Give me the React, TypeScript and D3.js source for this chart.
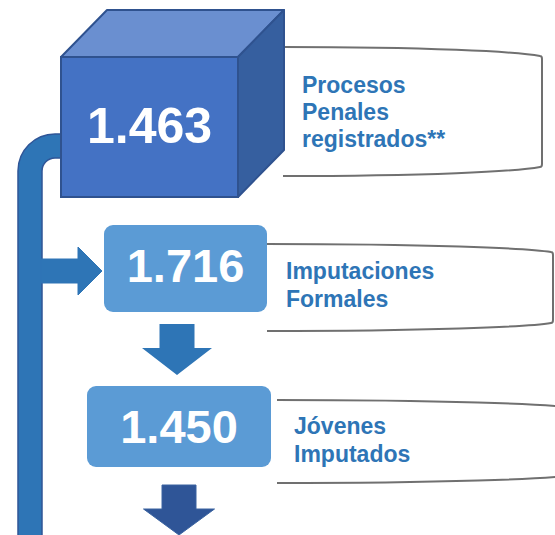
import React from "react";
import * as d3 from "d3";

const values = [1463, 1716, 1450];
const labels: string[][] = [
  ["Procesos", "Penales", "registrados**"],
  ["Imputaciones", "Formales"],
  ["Jóvenes", "Imputados"],
];

const W = 555;
const H = 535;

const locale = d3.formatLocale({ decimal: ",", thousands: ".", grouping: [3], currency: ["$", ""] });
const fmt = locale.format(",d");

const FONT = "'Liberation Sans', Arial, Helvetica, sans-serif";
const TEXT_BLUE = "#2E75B6";

function bracketPath(x0: number, x1: number, y0: number, y1: number, drop: number) {
  const p = d3.path();
  p.moveTo(x0, y0);
  p.bezierCurveTo(x0 + (x1 - x0) * 0.55, y0, x1 - 25, y0 + drop * 0.5, x1 - 2, y0 + drop);
  p.quadraticCurveTo(x1, y0 + drop, x1, y0 + drop + 3);
  p.lineTo(x1, y1 - drop - 3);
  p.quadraticCurveTo(x1, y1 - drop, x1 - 2, y1 - drop);
  p.bezierCurveTo(x1 - 25, y1 - drop * 0.5, x0 + (x1 - x0) * 0.55, y1, x0, y1);
  return p.toString();
}

function pipePath() {
  const cx = 55, cy = 171, R = 37, r = 13;
  const p = d3.path();
  p.moveTo(cx - R, H + 5);
  p.lineTo(cx - R, cy);
  p.arc(cx, cy, R, Math.PI, Math.PI * 1.5);
  p.lineTo(80, cy - R);
  p.lineTo(80, cy - r);
  p.lineTo(cx, cy - r);
  p.arc(cx, cy, r, Math.PI * 1.5, Math.PI, true);
  p.lineTo(cx - r, H + 5);
  p.closePath();
  return p.toString();
}

function rightArrow(x0: number, xs: number, xt: number, yc: number, shaftH: number, headH: number) {
  const pts: [number, number][] = [
    [x0, yc - shaftH / 2],
    [xs, yc - shaftH / 2],
    [xs, yc - headH / 2],
    [xt, yc],
    [xs, yc + headH / 2],
    [xs, yc + shaftH / 2],
    [x0, yc + shaftH / 2],
  ];
  return d3.line()(pts) + "Z";
}

function downArrow(xc: number, y0: number, ys: number, yt: number, shaftW: number, headW: number) {
  const pts: [number, number][] = [
    [xc - shaftW / 2, y0],
    [xc + shaftW / 2, y0],
    [xc + shaftW / 2, ys],
    [xc + headW / 2, ys],
    [xc, yt],
    [xc - headW / 2, ys],
    [xc - shaftW / 2, ys],
  ];
  return d3.line()(pts) + "Z";
}

export default function App() {
  // cube geometry
  const fx0 = 61, fx1 = 238, fy0 = 57, fy1 = 197, dx = 46, dy = -47;
  const top = d3.line()([[fx0, fy0], [fx0 + dx, fy0 + dy], [fx1 + dx, fy0 + dy], [fx1, fy0]]) + "Z";
  const side = d3.line()([[fx1, fy0], [fx1 + dx, fy0 + dy], [fx1 + dx, fy1 + dy], [fx1, fy1]]) + "Z";

  const boxes = [
    { x: 104, y: 225, w: 163, h: 87, cx: 185.5, base: 282, fs: 47 },
    { x: 87, y: 386, w: 184, h: 81, cx: 179, base: 443, fs: 47 },
  ];

  const brackets = [
    { x0: 283, x1: 542, y0: 47, y1: 176, drop: 9 },
    { x0: 267, x1: 553, y0: 244, y1: 331, drop: 8 },
    { x0: 277, x1: 575, y0: 400, y1: 483, drop: 8 },
  ];

  const labelPos = [
    { x: 302, y: 93, lh: 27 },
    { x: 286, y: 279, lh: 28 },
    { x: 294, y: 434, lh: 28 },
  ];

  return (
    <svg width={W} height={H} style={{ position: "absolute", left: 0, top: 0, display: "block", background: "#fff" }}>
      {/* brackets */}
      {brackets.map((b, i) => (
        <path key={"br" + i} d={bracketPath(b.x0, b.x1, b.y0, b.y1, b.drop)} fill="none" stroke="#707070" strokeWidth={2} />
      ))}

      {/* pipe */}
      <path d={pipePath()} fill="#2E75B6" stroke="#2F5597" strokeWidth={1.5} />

      {/* right arrow from pipe */}
      <path d={rightArrow(41, 78, 102, 271, 24, 48)} fill="#2E75B6" stroke="#2E75B6" strokeWidth={1} />

      {/* cube */}
      <path d={top} fill="#6A8FD0" stroke="#2F528F" strokeWidth={2} strokeLinejoin="round" />
      <path d={side} fill="#365F9F" stroke="#2F528F" strokeWidth={2} strokeLinejoin="round" />
      <rect x={fx0} y={fy0} width={fx1 - fx0} height={fy1 - fy0} fill="#4472C4" stroke="#2F528F" strokeWidth={2} />
      <text x={(fx0 + fx1) / 2} y={143} textAnchor="middle" fill="#fff" fontFamily={FONT} fontWeight="bold" fontSize={50}>
        {fmt(values[0])}
      </text>

      {/* rounded boxes */}
      {boxes.map((b, i) => (
        <g key={"bx" + i}>
          <rect x={b.x} y={b.y} width={b.w} height={b.h} rx={9} fill="#5B9BD5" />
          <text x={b.cx} y={b.base} textAnchor="middle" fill="#fff" fontFamily={FONT} fontWeight="bold" fontSize={b.fs}>
            {fmt(values[i + 1])}
          </text>
        </g>
      ))}

      {/* down arrows */}
      <path d={downArrow(177, 324, 348, 375, 35, 70)} fill="#2E75B6" />
      <path d={downArrow(179, 485, 509, 535, 34, 71)} fill="#2F5597" stroke="#3A63A0" strokeWidth={1} />

      {/* labels */}
      {labels.map((lines, i) => (
        <text key={"lb" + i} fill={TEXT_BLUE} fontFamily={FONT} fontWeight="bold" fontSize={23}>
          {lines.map((ln, j) => (
            <tspan key={j} x={labelPos[i].x} y={labelPos[i].y + j * labelPos[i].lh}>
              {ln}
            </tspan>
          ))}
        </text>
      ))}
    </svg>
  );
}
